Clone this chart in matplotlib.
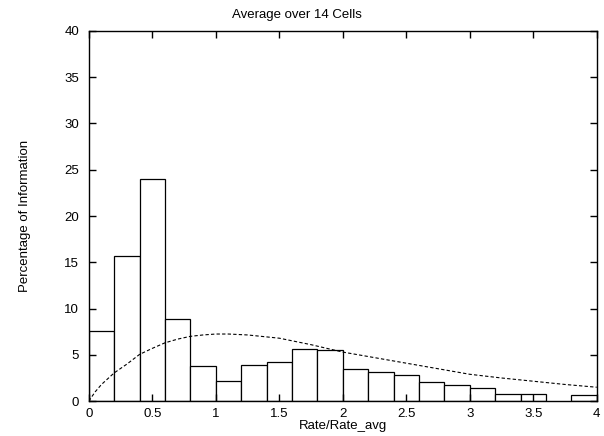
import numpy as np
import matplotlib
matplotlib.use("Agg")
import matplotlib.pyplot as plt

plt.rcParams['font.family'] = ['Liberation Sans', 'DejaVu Sans']

# -----------------------------
# Data
# -----------------------------
bin_left = np.arange(0, 4.0, 0.2)
bin_width = 0.2
info_pct = [7.6, 15.7, 24.0, 8.9, 3.8, 2.2, 3.9, 4.2, 5.6, 5.5,
            3.5, 3.1, 2.8, 2.05, 1.75, 1.45, 0.72, 0.72, 0.0, 0.65]

curve_x = [0.0, 0.05, 0.1, 0.2, 0.3, 0.4, 0.5, 0.6, 0.7, 0.8, 0.9, 1.0,
           1.1, 1.25, 1.5, 1.75, 2.0, 2.25, 2.5, 2.75, 3.0, 3.25, 3.5,
           3.75, 4.0]
curve_y = [0.0, 1.0, 1.8, 3.05, 4.0, 5.05, 5.7, 6.3, 6.7, 7.0, 7.15, 7.25,
           7.25, 7.15, 6.8, 6.1, 5.3, 4.7, 4.1, 3.5, 2.9, 2.5, 2.15,
           1.8, 1.5]

xticks = [0, 0.5, 1, 1.5, 2, 2.5, 3, 3.5, 4]
xtick_labels = ["0", "0.5", "1", "1.5", "2", "2.5", "3", "3.5", "4"]
yticks = [0, 5, 10, 15, 20, 25, 30, 35, 40]

# -----------------------------
# Figure
# -----------------------------
fig = plt.figure(figsize=(6.04, 4.36), dpi=100)
ax = fig.add_axes([0.147, 0.080, 0.841, 0.849])

heights = np.array(info_pct)
keep = heights > 0
ax.bar(bin_left[keep], heights[keep], width=bin_width, align='edge',
       facecolor='white', edgecolor='black', linewidth=0.9)

ax.plot(curve_x, curve_y, color='black', linestyle=(0, (3, 2)), linewidth=0.8)

ax.set_xlim(0, 4)
ax.set_ylim(0, 40)
ax.set_xticks(xticks)
ax.set_xticklabels(xtick_labels)
ax.set_yticks(yticks)
ax.tick_params(direction='in', top=True, right=True, length=5, labelsize=9.5,
               width=1)
ax.tick_params(axis='x', pad=5)
ax.tick_params(axis='y', pad=7)
for s in ax.spines.values():
    s.set_linewidth(1)

ax.set_xlabel("Rate/Rate_avg", fontsize=9.5, labelpad=0)
ax.set_ylabel("Percentage of Information", fontsize=9.5, labelpad=24)

# title sits left of the axes centre in the original
fig.text(297 / 604, 1 - 15 / 436, "Average over 14 Cells", fontsize=9.5,
         ha='center', va='center')

fig.savefig("out.png", dpi=100)
